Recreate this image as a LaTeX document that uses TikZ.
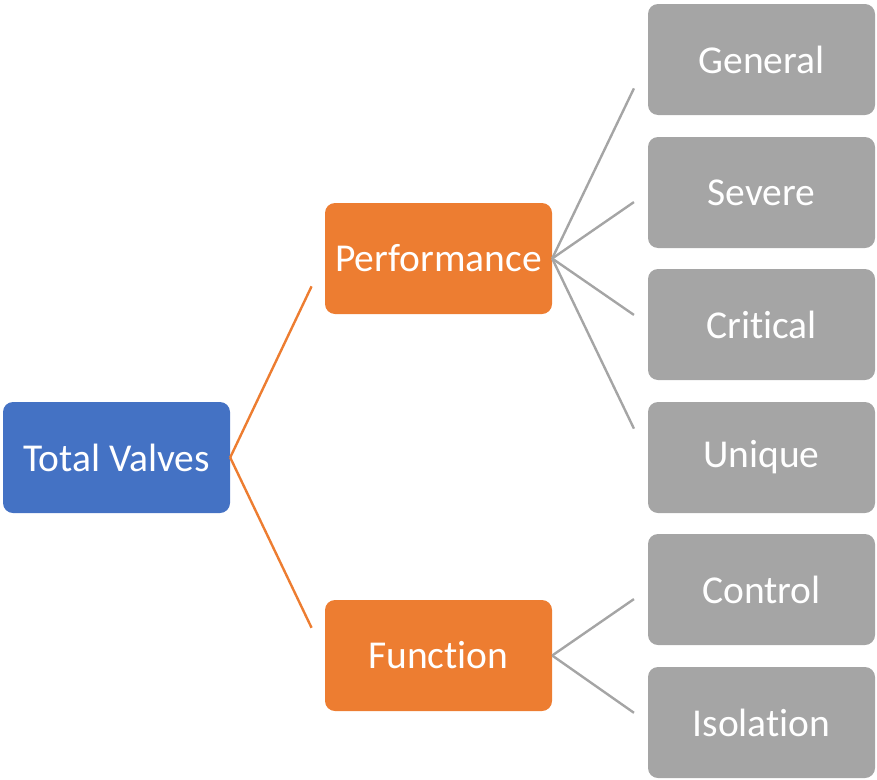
\documentclass[tikz,border=0pt]{standalone}
\usepackage{fontspec}
\setmainfont{Carlito}[Ligatures=NoCommon]
\usepackage{tikz}
\usetikzlibrary{calc}
\usepackage{xcolor}
\definecolor{rootblue}{HTML}{4472C4}
\definecolor{midorange}{HTML}{ED7D31}
\definecolor{leafgray}{HTML}{A5A5A5}

\begin{document}
\begin{tikzpicture}[x=1pt,y=-1pt]
  \useasboundingbox (0,0) rectangle (877,779);
  \tikzset{box/.style={rectangle, rounded corners=10pt, minimum width=227pt,
      minimum height=111pt, inner sep=0pt, text=white,
      font=\fontsize{39.5}{47}\selectfont},
    root/.style={box, fill=rootblue},
    mid/.style={box, fill=midorange},
    leaf/.style={box, fill=leafgray}}
  \node[root] (tv) at (116.5,457.5) {Total Valves};
  \node[mid] (perf) at (438.5,258.5) {Performance};
  \node[mid] (func) at (438.5,655.5) {Function};
  \foreach \n/\y/\t in {gen/59.5/General,sev/192.5/Severe,crit/324.5/Critical,
      uniq/457.5/Unique,ctrl/589.5/Control,iso/722.5/Isolation}{
    \node[leaf] (\n) at (761.5,\y) {\t};
  }
  \foreach \c in {perf,func}{
    \draw [midorange, line width=2.4pt] (tv.east) -- ($(tv.east)!0.86!(\c.west)$);
  }
  \foreach \c in {gen,sev,crit,uniq}{
    \draw [leafgray, line width=2.4pt] (perf.east) -- ($(perf.east)!0.855!(\c.west)$);
  }
  \foreach \c in {ctrl,iso}{
    \draw [leafgray, line width=2.4pt] (func.east) -- ($(func.east)!0.855!(\c.west)$);
  }
\end{tikzpicture}
\end{document}
